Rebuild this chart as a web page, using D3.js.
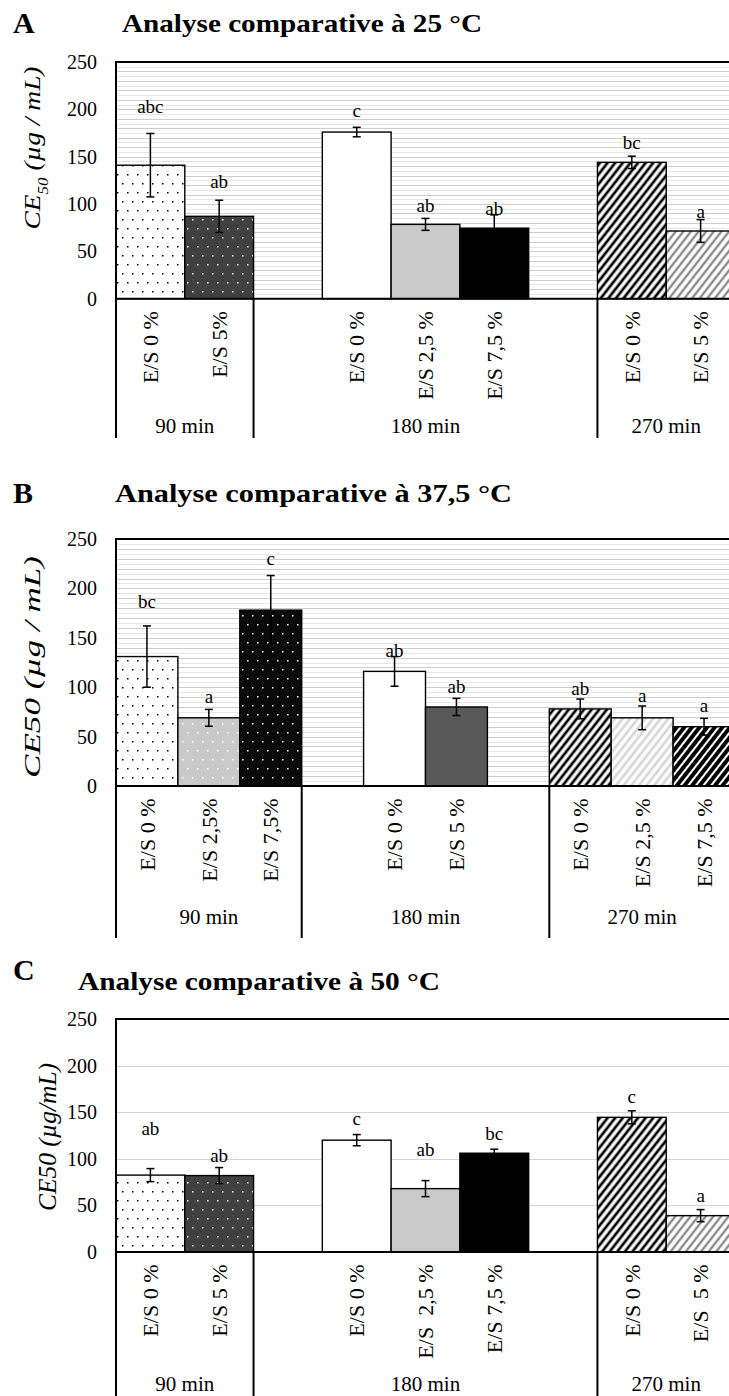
<!DOCTYPE html>
<html>
<head>
<meta charset="utf-8">
<script src="https://cdn.jsdelivr.net/npm/d3@7"></script>
<style>
  body { margin: 0; background: #fff; }
  svg { display: block; }
  text { font-family: "Liberation Serif", "Times New Roman", serif; fill: #000; }
</style>
</head>
<body>
<svg id="chart" width="729" height="1396"></svg>
<script>
// ---- data ------------------------------------------------------------
const yTicks = [0, 50, 100, 150, 200, 250];

// A : 25 °C
const groupsA   = ["90 min", "90 min", "180 min", "180 min", "180 min", "180 min", "180 min", "270 min", "270 min"];
const labelsA   = ["E/S 0 %", "E/S 5%", "", "E/S 0 %", "E/S 2,5 %", "E/S 7,5 %", "", "E/S 0 %", "E/S 5 %"];
const valuesA   = [141, 87, null, 176, 78.5, 74.5, null, 144, 71.5];
const errorsA   = [33.5, 17, null, 5, 6.3, 14, null, 6.5, 12];
const lettersA  = ["abc", "ab", "", "c", "ab", "ab", "", "bc", "a"];
const letterAtA = [196, 117, null, 192, 92, 88, null, 158, 85];

// B : 37,5 °C
const groupsB   = ["90 min", "90 min", "90 min", "180 min", "180 min", "180 min", "180 min", "270 min", "270 min", "270 min"];
const labelsB   = ["E/S 0 %", "E/S 2,5%", "E/S 7,5%", "", "E/S 0 %", "E/S 5 %", "", "E/S 0 %", "E/S 2,5 %", "E/S 7,5 %"];
const valuesB   = [131, 69, 178, null, 116, 80, null, 78, 69, 60];
const errorsB   = [31, 8.5, 35, null, 15, 8.7, null, 10, 12, 8.5];
const lettersB  = ["bc", "a", "c", "", "ab", "ab", "", "ab", "a", "a"];
const letterAtB = [180, 84, 224, null, 131, 94, null, 92, 85, 75];

// C : 50 °C
const groupsC   = ["90 min", "90 min", "180 min", "180 min", "180 min", "180 min", "180 min", "270 min", "270 min"];
const labelsC   = ["E/S 0 %", "E/S 5 %", "", "E/S 0 %", "E/S  2,5 %", "E/S 7,5 %", "", "E/S 0 %", "E/S  5 %"];
const valuesC   = [82.5, 82, null, 120, 68, 106, null, 144.5, 39];
const errorsC   = [7, 8.6, null, 6, 8.6, 4.3, null, 7, 6.5];
const lettersC  = ["ab", "ab", "", "c", "ab", "bc", "", "c", "a"];
const letterAtC = [125.5, 97, null, 136, 103, 120, null, 160, 54];

// ---- styles (fill per bar) ----------------------------------------
const fillsA = ["url(#dotsWhite)", "url(#dotsDark)", null, "#fff", "#c9c9c9", "#000", null, "url(#hatchBlack)", "url(#hatchGray)"];
const fillsB = ["url(#dotsWhite)", "url(#dotsGray)", "url(#dotsBlack)", null, "#fff", "#595959", null, "url(#hatchBlack)", "url(#hatchLight)", "url(#hatchHeavy)"];
const fillsC = fillsA;

const svg = d3.select("#chart");
const plotLeft = 116, plotRight = 735;

const defs = svg.append("defs");

function dots(id, bg, dot) {
    const pat = defs.append("pattern").attr("id", id)
        .attr("patternUnits", "userSpaceOnUse")
        .attr("width", 10).attr("height", 18);
    pat.append("rect").attr("width", 10).attr("height", 18).attr("fill", bg);
    [[2, 3], [7, 12]].forEach(([cx, cy]) => {
        pat.append("rect").attr("x", cx).attr("y", cy)
            .attr("width", 1.5).attr("height", 1.5).attr("fill", dot);
    });
}
function hatch(id, color, w) {
    const pat = defs.append("pattern").attr("id", id)
        .attr("patternUnits", "userSpaceOnUse")
        .attr("width", 6).attr("height", 6)
        .attr("patternTransform", "rotate(38)");
    pat.append("rect").attr("width", 6).attr("height", 6).attr("fill", "#fff");
    pat.append("line").attr("x1", 3).attr("x2", 3).attr("y1", -1).attr("y2", 7)
        .attr("stroke", color).attr("stroke-width", w);
}
dots("dotsWhite", "#fff", "#000");
dots("dotsDark", "#404040", "#fff");
dots("dotsGray", "#c9c9c9", "#fff");
dots("dotsBlack", "#0a0a0a", "#fff");
hatch("hatchBlack", "#000", 2.7);
hatch("hatchGray", "#8a8a8a", 2.4);
hatch("hatchLight", "#d6d6d6", 2.6);
hatch("hatchHeavy", "#000", 3.9);

const panels = [
    { tag: "A", tagY: 33, title: "Analyse comparative à 25 °C", titleX: 122, titleY: 32, titleW: 360,
      top: 62, zero: 298.7, groupBase: 433, divBottom: 438, grid: "fine",
      yTitle: [["CE", false], ["50", true], [" (µg / mL)", false]], yTitleX: 32, yTitleY: 148, yTitleLen: 163, yTitleSize: 24,
      groups: groupsA, labels: labelsA, values: valuesA, errors: errorsA, letters: lettersA, letterAt: letterAtA, fills: fillsA },
    { tag: "B", tagY: 503, title: "Analyse comparative à 37,5 °C", titleX: 115, titleY: 502, titleW: 397,
      top: 539, zero: 786, groupBase: 924, divBottom: 938, grid: "fine",
      yTitle: [["CE50 (µg / mL)", false]], yTitleX: 32, yTitleY: 667, yTitleLen: 222, yTitleSize: 24,
      groups: groupsB, labels: labelsB, values: valuesB, errors: errorsB, letters: lettersB, letterAt: letterAtB, fills: fillsB },
    { tag: "C", tagY: 980, title: "Analyse comparative à 50 °C", titleX: 78, titleY: 990, titleW: 362,
      top: 1019, zero: 1252, groupBase: 1391, divBottom: 1396, grid: "major",
      yTitle: [["CE50 (µg/mL)", false]], yTitleX: 47, yTitleY: 1137, yTitleLen: 148, yTitleSize: 25,
      groups: groupsC, labels: labelsC, values: valuesC, errors: errorsC, letters: lettersC, letterAt: letterAtC, fills: fillsC }
];

panels.forEach(drawPanel);

function drawPanel(p) {
    const n = p.values.length;
    const x = d3.scaleBand().domain(d3.range(n)).range([plotLeft, plotRight]).padding(0);
    const y = d3.scaleLinear().domain([0, 250]).range([p.zero, p.top]);
    const bw = x.bandwidth();
    const g = svg.append("g");

    // panel letter + title
    g.append("text").attr("x", 13).attr("y", p.tagY)
        .attr("font-size", 30).attr("font-weight", "bold").text(p.tag);
    g.append("text").attr("x", p.titleX).attr("y", p.titleY)
        .attr("font-size", 26).attr("font-weight", "bold")
        .attr("textLength", p.titleW).attr("lengthAdjust", "spacingAndGlyphs")
        .text(p.title);

    // gridlines
    const gridVals = p.grid === "fine" ? d3.range(5, 250, 5) : [50, 100, 150, 200];
    g.append("g").selectAll("line").data(gridVals).join("line")
        .attr("x1", plotLeft).attr("x2", plotRight)
        .attr("y1", d => Math.round(y(d)) + 0.5).attr("y2", d => Math.round(y(d)) + 0.5)
        .attr("stroke", d => p.grid === "fine" ? (d % 10 === 0 ? "#cdcdcd" : "#e6e6e6") : "#d4d4d4")
        .attr("stroke-width", 1);

    // bars
    const idx = d3.range(n).filter(i => p.values[i] != null);
    g.append("g").selectAll("rect").data(idx).join("rect")
        .attr("x", i => x(i)).attr("y", i => y(p.values[i]))
        .attr("width", bw).attr("height", i => y(0) - y(p.values[i]))
        .attr("fill", i => p.fills[i])
        .attr("stroke", "#000").attr("stroke-width", 1.4);

    // error bars
    const eb = g.append("g").attr("stroke", "#000").attr("stroke-width", 1.5);
    idx.forEach(i => {
        const cx = x(i) + bw / 2;
        const lo = y(p.values[i] - p.errors[i]), hi = y(p.values[i] + p.errors[i]);
        eb.append("line").attr("x1", cx).attr("x2", cx).attr("y1", lo).attr("y2", hi);
        eb.append("line").attr("x1", cx - 4).attr("x2", cx + 4).attr("y1", lo).attr("y2", lo);
        eb.append("line").attr("x1", cx - 4).attr("x2", cx + 4).attr("y1", hi).attr("y2", hi);
    });

    // significance letters
    g.append("g").selectAll("text").data(idx).join("text")
        .attr("x", i => x(i) + bw / 2).attr("y", i => y(p.letterAt[i]))
        .attr("text-anchor", "middle").attr("font-size", 19)
        .text(i => p.letters[i]);

    // y axis
    const yAxis = g.append("g").attr("transform", `translate(${plotLeft},0)`)
        .call(d3.axisLeft(y).tickValues(yTicks).tickSize(0).tickPadding(19));
    yAxis.select(".domain").remove();
    yAxis.selectAll("text").attr("font-size", 20)
        .attr("font-family", "Liberation Serif, serif").attr("fill", "#000");

    // x axis (rotated category labels)
    const xAxis = g.append("g").attr("transform", `translate(0,${p.zero})`)
        .call(d3.axisBottom(x).tickFormat(i => p.labels[i]).tickSize(0));
    xAxis.select(".domain").remove();
    xAxis.selectAll("text")
        .attr("transform", "rotate(-90)")
        .attr("x", -12.5).attr("y", 0).attr("dy", "0.35em")
        .attr("text-anchor", "end").attr("font-size", 22)
        .attr("font-family", "Liberation Serif, serif").attr("fill", "#000")
        .style("white-space", "pre");

    // group labels + dividers
    const groupNames = Array.from(new Set(p.groups));
    const spans = groupNames.map(name => {
        const ids = d3.range(n).filter(i => p.groups[i] === name);
        return { name, x0: x(ids[0]), x1: x(ids[ids.length - 1]) + bw };
    });
    g.append("g").selectAll("line").data(spans).join("line")
        .attr("x1", d => d.x0).attr("x2", d => d.x0)
        .attr("y1", p.zero).attr("y2", p.divBottom)
        .attr("stroke", "#000").attr("stroke-width", 2);
    g.append("g").selectAll("text").data(spans).join("text")
        .attr("x", d => (d.x0 + d.x1) / 2).attr("y", p.groupBase)
        .attr("text-anchor", "middle").attr("font-size", 21)
        .text(d => d.name);

    // frame
    g.append("line").attr("x1", plotLeft - 1).attr("x2", plotRight)
        .attr("y1", p.top).attr("y2", p.top).attr("stroke", "#000").attr("stroke-width", 1.8);
    g.append("line").attr("x1", plotLeft).attr("x2", plotLeft)
        .attr("y1", p.top).attr("y2", p.divBottom).attr("stroke", "#000").attr("stroke-width", 2);
    g.append("line").attr("x1", plotLeft).attr("x2", plotRight)
        .attr("y1", p.zero).attr("y2", p.zero).attr("stroke", "#000").attr("stroke-width", 2);

    // y title
    const yt = g.append("text")
        .attr("transform", `translate(${p.yTitleX},${p.yTitleY}) rotate(-90)`)
        .attr("text-anchor", "middle").attr("dy", "0.35em")
        .attr("font-size", p.yTitleSize).attr("font-style", "italic")
        .attr("textLength", p.yTitleLen).attr("lengthAdjust", "spacingAndGlyphs");
    p.yTitle.forEach(([t, sub]) => {
        const s = yt.append("tspan").text(t);
        if (sub) s.attr("font-size", p.yTitleSize * 0.62).attr("baseline-shift", "sub");
    });
}
</script>
</body>
</html>
